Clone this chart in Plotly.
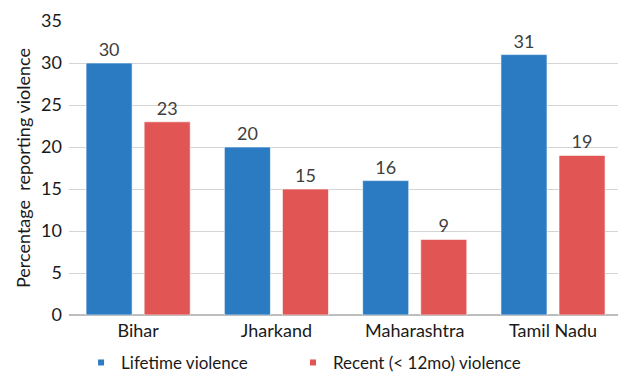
import plotly.graph_objects as go

states = ["Bihar", "Jharkand", "Maharashtra", "Tamil Nadu"]
lifetime = [30, 20, 16, 31]
recent = [23, 15, 9, 19]
series_names = ["Lifetime violence", "Recent (< 12mo) violence"]
y_ticks = [0, 5, 10, 15, 20, 25, 30, 35]

BLUE = "#2b7bc3"
RED = "#e25555"
FONT = "Lato"

fig = go.Figure()
for vals, color in [(lifetime, BLUE), (recent, RED)]:
    fig.add_trace(go.Bar(
        x=states, y=vals, marker=dict(color=color, line=dict(color="rgba(255,255,255,0.6)", width=1)),
        text=[str(v) for v in vals], textposition="outside", cliponaxis=False,
        constraintext="none",
        textfont=dict(family=FONT, size=18, color="#404040"),
        showlegend=False, hoverinfo="skip",
    ))

# small square legend keys, one legend box per series
for name, color, lg in zip(series_names, [BLUE, RED], ["legend", "legend2"]):
    fig.add_trace(go.Scatter(
        x=[None], y=[None], mode="markers", name=name, legend=lg,
        marker=dict(symbol="square", size=6, color=color),
    ))

legend_style = dict(
    orientation="h", xanchor="left", y=-0.163, yanchor="middle",
    font=dict(family=FONT, size=17, color="#1a1a1a"), itemwidth=30,
    bgcolor="rgba(0,0,0,0)",
)

fig.update_layout(
    width=618, height=374,
    margin=dict(l=69, r=0, t=21, b=59, autoexpand=False),
    plot_bgcolor="white", paper_bgcolor="white",
    barmode="group", bargap=0.16, bargroupgap=0.207,
    font=dict(family=FONT, color="#1a1a1a"),
    legend=dict(x=0.022, **legend_style),
    legend2=dict(x=0.408, **legend_style),
    xaxis=dict(
        range=[-0.5, 3.47], showgrid=False, showline=False,
        tickfont=dict(family=FONT, size=18, color="#1a1a1a"), ticks="",
        ticklabelstandoff=3,
    ),
    yaxis=dict(
        range=[0, 35], tickvals=y_ticks, showgrid=True, gridcolor="#d4d4d4", gridwidth=1,
        zeroline=True, zerolinecolor="#bdbdbd", zerolinewidth=1.5,
        tickfont=dict(family=FONT, size=18, color="#1a1a1a"), ticks="", ticklen=0,
        ticklabelstandoff=6,
        title=dict(text="Percentage  reporting violence", font=dict(family=FONT, size=18, color="#1a1a1a"), standoff=5),
    ),
)

fig.write_html("out.html")
